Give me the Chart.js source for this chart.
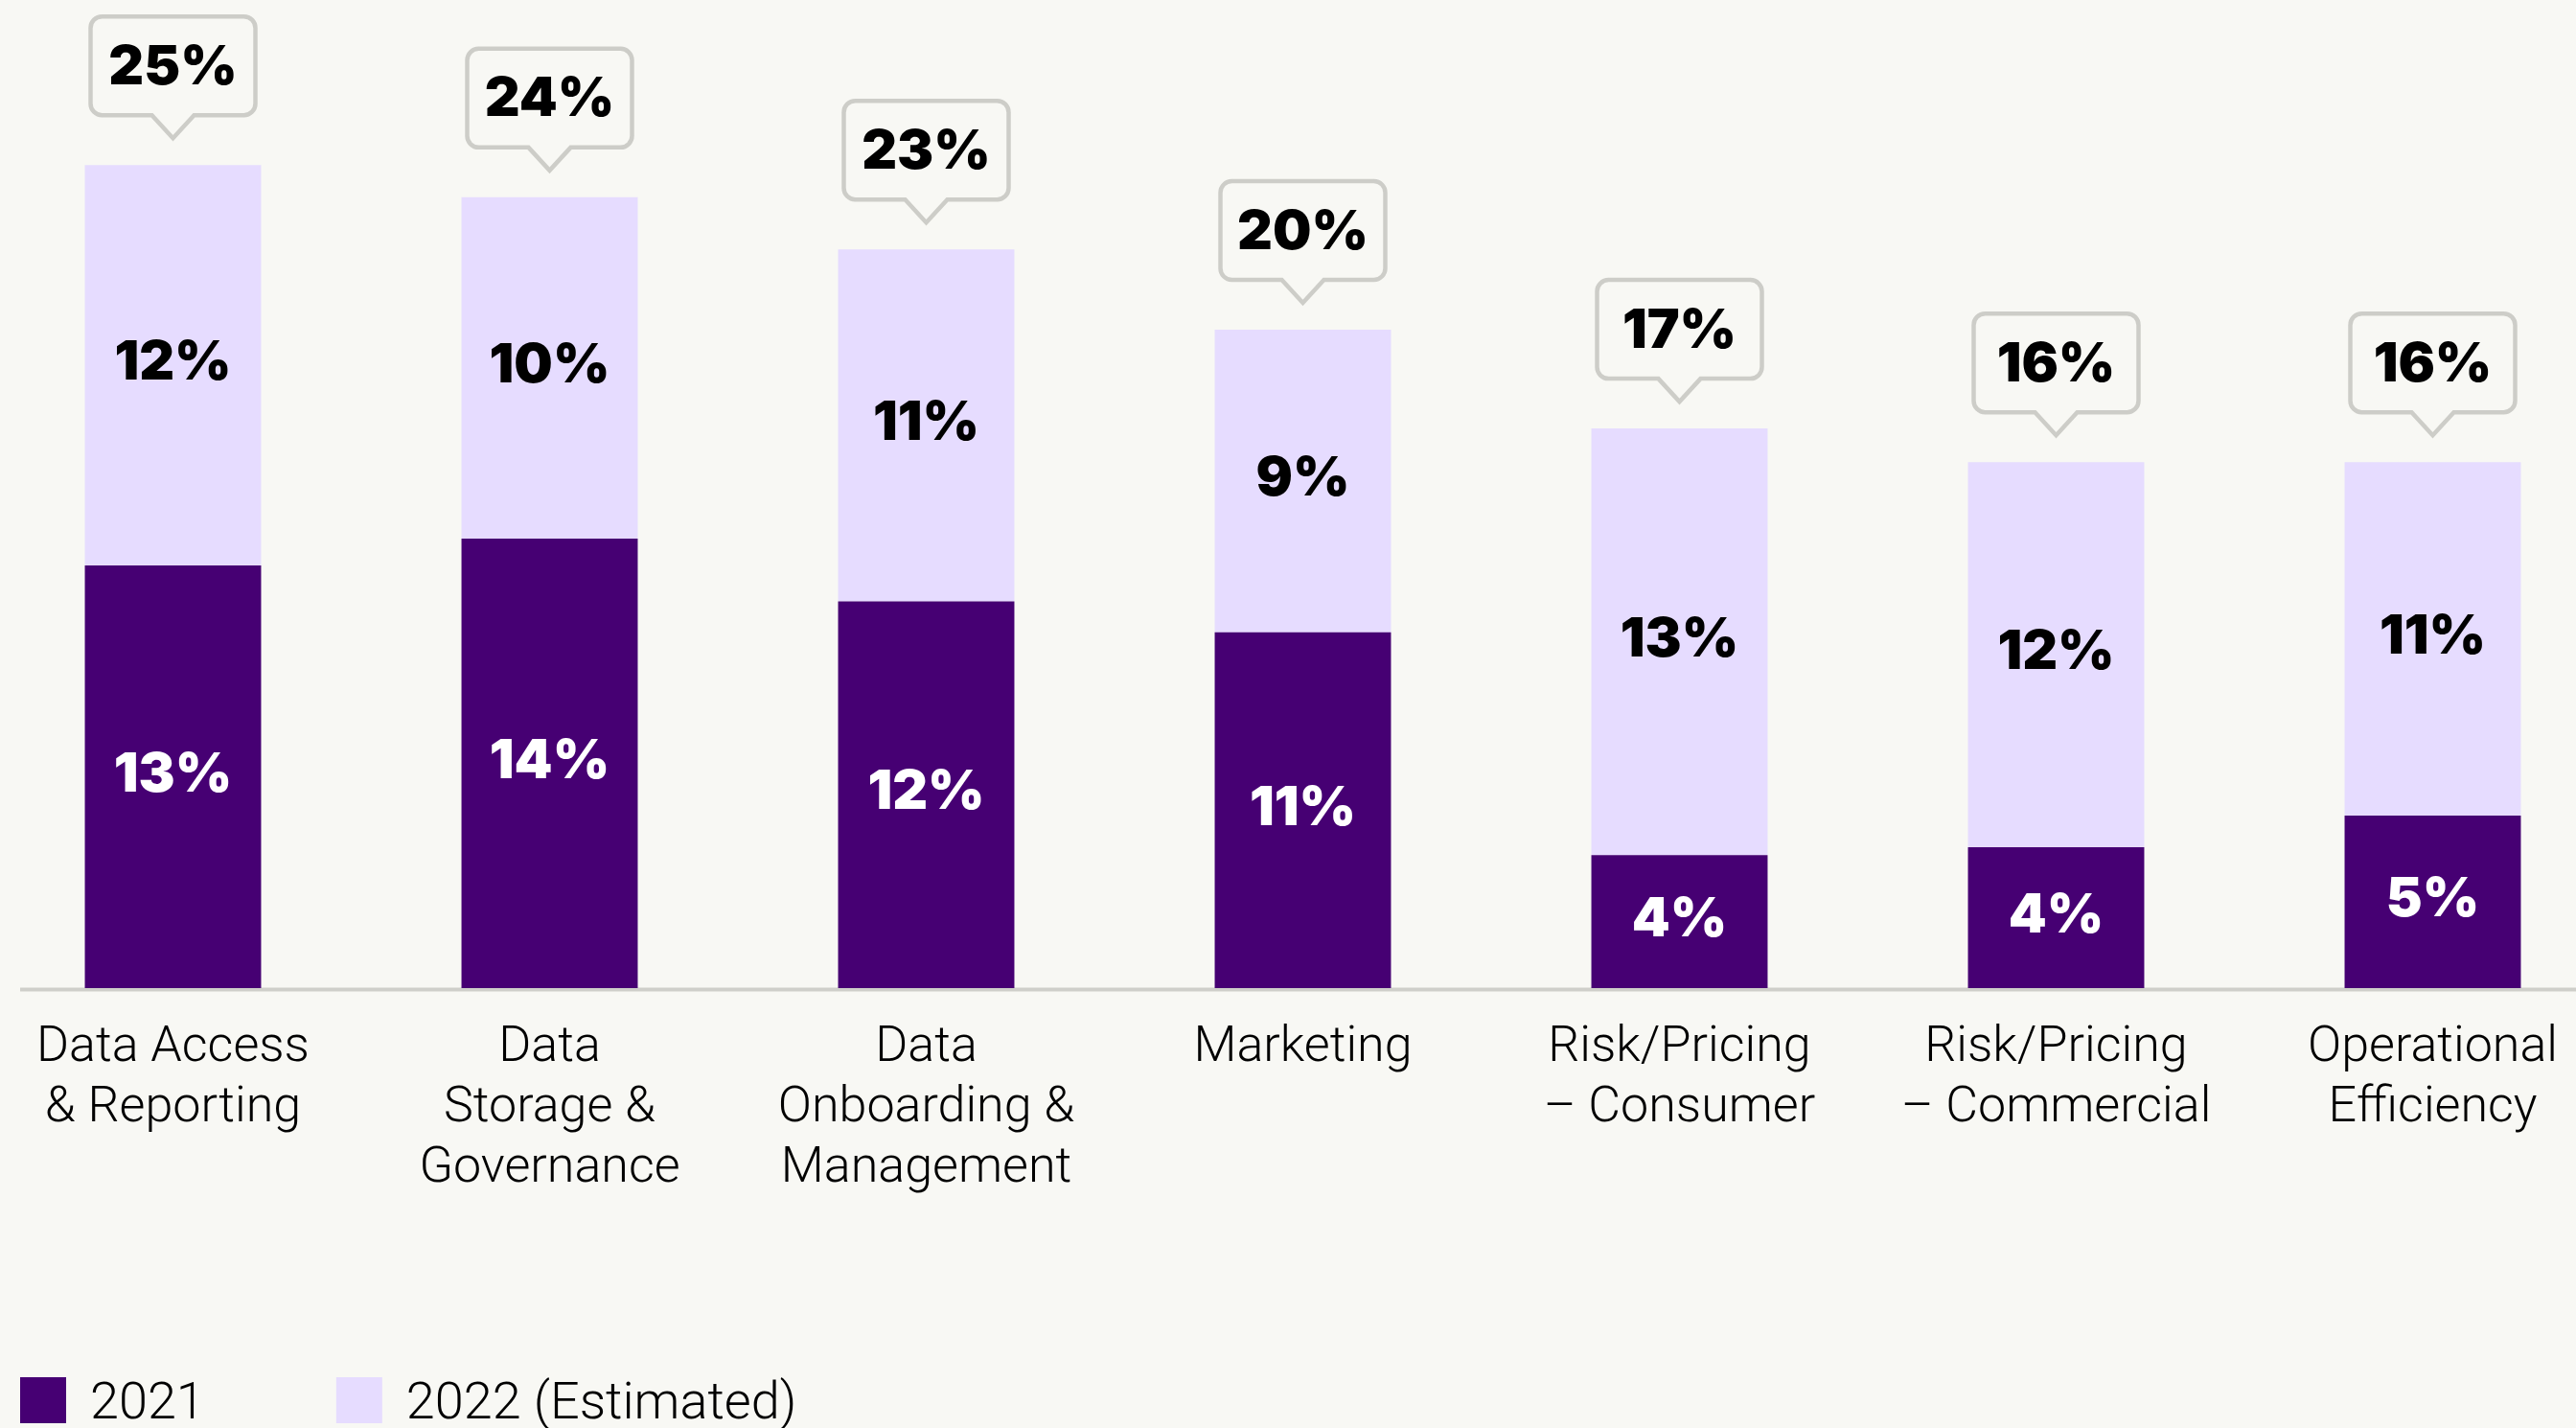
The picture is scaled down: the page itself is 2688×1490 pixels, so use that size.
<!DOCTYPE html>
<html lang="en">
<head>
  <meta charset="UTF-8">
  <meta name="viewport" content="width=device-width, initial-scale=1.0">
  <title>Spend by Use Case</title>
  <script src="https://cdn.jsdelivr.net/npm/chart.js"></script>
  <style>
    html, body {
      margin: 0;
      padding: 0;
      background-color: #f8f8f4;
      overflow: hidden;
    }
    .chart-wrap {
      position: absolute;
      left: -16px;
      top: 0;
      width: 2751px;
      height: 1490px;
    }
  </style>
</head>
<body>
  <div class="chart-wrap">
    <canvas id="useCaseChart"></canvas>
  </div>

  <script>
    const categories = [
      ["Data Access", "& Reporting"],
      ["Data", "Storage &", "Governance"],
      ["Data", "Onboarding &", "Management"],
      ["Marketing"],
      ["Risk/Pricing", "– Consumer"],
      ["Risk/Pricing", "– Commercial"],
      ["Operational", "Efficiency"]
    ];
    const values2021 = [12.83, 13.65, 11.74, 10.8, 4.04, 4.28, 5.24];
    const values2022 = [12.16, 10.36, 10.69, 9.19, 12.95, 11.69, 10.73];
    const seriesNames = ["2021", "2022 (Estimated)"];

    const DARK = "#460073";
    const LIGHT = "#e6dcff";
    const BG = "#f8f8f4";
    const GREY = "#cdcdc8";
    const BOLD_FONT = "900 57px Inter, 'Open Sans', sans-serif";
    const LIGHT_FONT = "300 54px Roboto, 'Open Sans', sans-serif";

    const pct = (v) => Math.round(v) + "%";

    const decorPlugin = {
      id: "decor",
      beforeDatasetsDraw(chart) {
        const { ctx, chartArea } = chart;
        // baseline, starts a bit in from the left edge
        ctx.save();
        ctx.strokeStyle = "#cfcfca";
        ctx.lineWidth = 4;
        ctx.beginPath();
        ctx.moveTo(37, chartArea.bottom + 1.5);
        ctx.lineTo(chart.width, chartArea.bottom + 1.5);
        ctx.stroke();
        ctx.restore();
      },
      afterDatasetsDraw(chart) {
        const { ctx } = chart;
        ctx.save();
        ctx.font = BOLD_FONT;
        ctx.textAlign = "center";
        ctx.textBaseline = "middle";

        // values inside segments
        chart.data.datasets.forEach((ds, di) => {
          const meta = chart.getDatasetMeta(di);
          ctx.fillStyle = di === 0 ? "#ffffff" : "#000000";
          meta.data.forEach((bar, i) => {
            const mid = (bar.y + bar.base) / 2;
            ctx.fillText(pct(ds.data[i]), bar.x, mid - 2);
          });
        });

        // total callouts above the stacks
        const topMeta = chart.getDatasetMeta(1);
        topMeta.data.forEach((bar, i) => {
          const total = Math.round(values2021[i]) + Math.round(values2022[i]);
          const cx = bar.x;
          const tip = bar.y - 28;
          const B = tip - 24;
          const T = B - 103;
          const L = cx - 86;
          const R = cx + 86;
          const r = 12;
          ctx.beginPath();
          ctx.moveTo(L + r, T);
          ctx.lineTo(R - r, T);
          ctx.arcTo(R, T, R, T + r, r);
          ctx.lineTo(R, B - r);
          ctx.arcTo(R, B, R - r, B, r);
          ctx.lineTo(cx + 22, B);
          ctx.lineTo(cx, tip);
          ctx.lineTo(cx - 22, B);
          ctx.lineTo(L + r, B);
          ctx.arcTo(L, B, L, B - r, r);
          ctx.lineTo(L, T + r);
          ctx.arcTo(L, T, L + r, T, r);
          ctx.closePath();
          ctx.fillStyle = BG;
          ctx.fill();
          ctx.strokeStyle = GREY;
          ctx.lineWidth = 4.5;
          ctx.stroke();
          ctx.fillStyle = "#000000";
          ctx.fillText(total + "%", cx, (T + B) / 2 + 2);
        });
        ctx.restore();
      },
      afterDraw(chart) {
        // legend at bottom left
        const { ctx } = chart;
        ctx.save();
        ctx.font = LIGHT_FONT;
        ctx.textAlign = "left";
        ctx.textBaseline = "middle";
        let x = 37;
        const y = 1437;
        const box = 48;
        chart.data.datasets.forEach((ds) => {
          ctx.fillStyle = ds.backgroundColor;
          ctx.fillRect(x, y, box, box);
          ctx.fillStyle = "#000000";
          const tx = x + box + 25;
          ctx.fillText(ds.label, tx, y + box / 2 + 5);
          x = tx + ctx.measureText(ds.label).width + 137;
        });
        ctx.restore();
      }
    };

    const ctx = document.getElementById("useCaseChart").getContext("2d");
    new Chart(ctx, {
      type: "bar",
      data: {
        labels: categories,
        datasets: [
          {
            label: seriesNames[0],
            data: values2021,
            backgroundColor: DARK,
            borderWidth: 0,
            barPercentage: 0.468,
            categoryPercentage: 1.0
          },
          {
            label: seriesNames[1],
            data: values2022,
            backgroundColor: LIGHT,
            borderWidth: 0,
            barPercentage: 0.468,
            categoryPercentage: 1.0
          }
        ]
      },
      options: {
        responsive: true,
        maintainAspectRatio: false,
        animation: false,
        layout: { padding: 0 },
        plugins: {
          legend: { display: false },
          tooltip: { enabled: false }
        },
        scales: {
          x: {
            stacked: true,
            grid: { display: false },
            border: { display: false },
            ticks: {
              color: "#000000",
              font: { family: "Roboto", weight: "300", size: 52, lineHeight: 1.21 },
              padding: 24,
              maxRotation: 0,
              autoSkip: false
            },
            afterFit: (scale) => {
              scale.height = 459;
            }
          },
          y: {
            stacked: true,
            display: false,
            min: 0,
            max: 30
          }
        }
      },
      plugins: [decorPlugin]
    });
  </script>
</body>
</html>
